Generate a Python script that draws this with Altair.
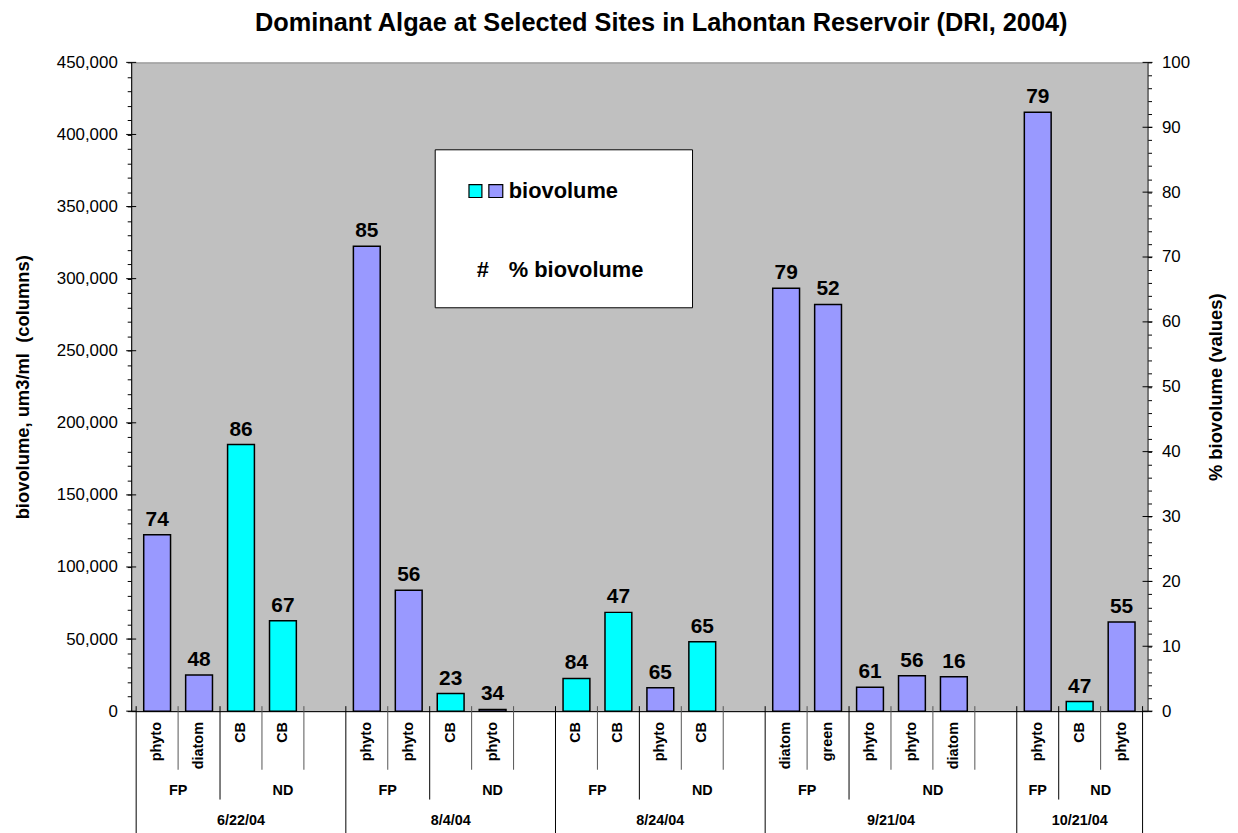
import altair as alt
import pandas as pd

# ---------------- data ----------------
dates = ["6/22/04"] * 5 + ["8/4/04"] * 5 + ["8/24/04"] * 5 + ["9/21/04"] * 6 + ["10/21/04"] * 3
sites = ["FP", "FP", "ND", "ND", "ND",
         "FP", "FP", "ND", "ND", "ND",
         "FP", "FP", "ND", "ND", "ND",
         "FP", "FP", "ND", "ND", "ND", "ND",
         "FP", "ND", "ND"]
types = ["phyto", "diatom", "CB", "CB", "",
         "phyto", "phyto", "CB", "phyto", "",
         "CB", "CB", "phyto", "CB", "",
         "diatom", "green", "phyto", "phyto", "diatom", "",
         "phyto", "CB", "phyto"]
biovolume = [122400, 25000, 184900, 62700, None,
             322500, 83900, 12200, 1200, None,
             22700, 68500, 16300, 48200, None,
             293400, 282100, 16500, 24600, 23900, None,
             415400, 6700, 61800]
pct_biovolume = [74, 48, 86, 67, None,
                 85, 56, 23, 34, None,
                 84, 47, 65, 65, None,
                 79, 52, 61, 56, 16, None,
                 79, 47, 55]

left_major = list(range(0, 450001, 50000))
left_minor = list(range(0, 450001, 10000))
right_major = list(range(0, 101, 10))
right_minor = list(range(0, 101, 2))

legend_colors = ["#00FFFF", "#9999FF"]

TITLE = "Dominant Algae at Selected Sites in Lahontan Reservoir (DRI, 2004)"
LEFT_TITLE = "biovolume, um3/ml\u00a0 (columns)"
RIGHT_TITLE = "% biovolume (values)"

# ---------------- layout / style ----------------
W, H = 1023, 653
FONT = "Liberation Sans"
CYAN, PURPLE = "#00FFFF", "#9999FF"

n = len(types)
df = pd.DataFrame({"date": dates, "site": sites, "type": types,
                   "val": biovolume, "pct": pct_biovolume})
df["slot"] = range(n)
df["center"] = df["slot"] + 0.5
df["kind"] = ["cyano" if t == "CB" else "other" for t in types]
bars_df = df.dropna(subset=["val"]).copy()
types_df = df[df["type"] != ""].copy()

site_groups = (df.groupby(["date", "site"], sort=False)
                 .agg(start=("slot", "min"), end=("slot", "max")).reset_index())
site_groups["mid"] = (site_groups["start"] + site_groups["end"] + 1) / 2
date_groups = (df.groupby(["date"], sort=False)
                 .agg(start=("slot", "min"), end=("slot", "max")).reset_index())
date_groups["mid"] = (date_groups["start"] + date_groups["end"] + 1) / 2

rows = []
for b in range(n + 1):
    if b == 0 or b == n or dates[b - 1] != dates[b]:
        lvl = 3
    elif sites[b - 1] != sites[b]:
        lvl = 2
    else:
        lvl = 1
    rows.append({"b": b, "level": lvl})
sep_df = pd.DataFrame(rows)

x_scale = alt.Scale(domain=[0, n], nice=False, zero=False)
x_axis = alt.Axis(labels=False, ticks=False, grid=False, domain=True,
                  domainColor="black", domainWidth=1, title=None)


def xq(field):
    return alt.X(f"{field}:Q", scale=x_scale, axis=x_axis, title=None)


left_axis = alt.Axis(values=left_minor, tickSize=4,
                     labelExpr="datum.value % 50000 === 0 ? format(datum.value, ',') : ''",
                     labelPadding=10, labelOverlap=False, grid=False,
                     domainColor="black", tickColor="black", titlePadding=24)
y_scale_left = alt.Scale(domain=[0, 450000], nice=False, zero=True)


def yl(field):
    return alt.Y(f"{field}:Q", scale=y_scale_left, axis=left_axis, title=LEFT_TITLE)


bars = alt.Chart(bars_df).mark_bar(size=27, stroke="black", strokeWidth=1.5).encode(
    x=xq("center"),
    y=yl("val"),
    color=alt.Color("kind:N", scale=alt.Scale(domain=["cyano", "other"], range=[CYAN, PURPLE]),
                    legend=None),
)

bar_labels = alt.Chart(bars_df).mark_text(
    font=FONT, fontSize=21, fontWeight="bold", baseline="alphabetic", dy=-9, color="black"
).encode(
    x=xq("center"),
    y=yl("val"),
    text=alt.Text("pct:Q", format="d"),
)

left_ticks = alt.Chart(pd.DataFrame({"val": left_major})).mark_rule(color="black", strokeWidth=1).encode(
    y=yl("val"),
    x=alt.value(-5),
    x2=alt.value(5),
)

seps = []
for lvl, length, col in [(1, 59, "#555555"), (2, 89, "black"), (3, 125, "black")]:
    seps.append(
        alt.Chart(sep_df).transform_filter(alt.datum.level == lvl)
        .mark_rule(color=col, strokeWidth=1)
        .encode(x=xq("b"), y=alt.value(H - 5), y2=alt.value(H + length))
    )

type_text = alt.Chart(types_df).mark_text(
    font=FONT, fontSize=14.5, fontWeight="bold", angle=270, align="right", baseline="middle"
).encode(x=xq("center"), y=alt.value(H + 11), text="type:N")

site_text = alt.Chart(site_groups).mark_text(
    font=FONT, fontSize=14.5, fontWeight="bold", align="center", baseline="middle"
).encode(x=xq("mid"), y=alt.value(H + 80), text="site:N")

date_text = alt.Chart(date_groups).mark_text(
    font=FONT, fontSize=14.5, fontWeight="bold", align="center", baseline="middle"
).encode(x=xq("mid"), y=alt.value(H + 111), text="date:N")

one = pd.DataFrame({"a": [0]})
legend_box = alt.Chart(one).mark_rect(fill="white", stroke="black", strokeWidth=1).encode(
    x=alt.value(306), x2=alt.value(565), y=alt.value(88), y2=alt.value(247))
sw1 = alt.Chart(one).mark_rect(fill=legend_colors[0], stroke="black", strokeWidth=1.2).encode(
    x=alt.value(340), x2=alt.value(353), y=alt.value(123), y2=alt.value(136))
sw2 = alt.Chart(one).mark_rect(fill=legend_colors[1], stroke="black", strokeWidth=1.2).encode(
    x=alt.value(360), x2=alt.value(374), y=alt.value(123), y2=alt.value(136))
leg_t1 = alt.Chart(one).mark_text(font=FONT, fontSize=22, fontWeight="bold", align="left",
                                  baseline="middle", text="biovolume").encode(
    x=alt.value(380), y=alt.value(130))
leg_t2 = alt.Chart(one).mark_text(font=FONT, fontSize=22, fontWeight="bold", align="center",
                                  baseline="middle", text="#").encode(
    x=alt.value(354), y=alt.value(209))
leg_t3 = alt.Chart(one).mark_text(font=FONT, fontSize=22, fontWeight="bold", align="left",
                                  baseline="middle", text="% biovolume").encode(
    x=alt.value(380), y=alt.value(209))

left_layer = alt.layer(bars, left_ticks, *seps, type_text, site_text, date_text,
                       legend_box, sw1, sw2, leg_t1, leg_t2, leg_t3, bar_labels)

right_axis = alt.Axis(orient="right", values=right_minor, tickSize=4,
                      labelExpr="datum.value % 10 === 0 ? datum.label : ''",
                      labelPadding=10, labelOverlap=False, grid=False,
                      domainColor="#404040", tickColor="black",
                      titleAngle=270, titlePadding=36)
right_layer = alt.Chart(pd.DataFrame({"pv": right_major})).mark_rule(color="black", strokeWidth=1).encode(
    y=alt.Y("pv:Q", scale=alt.Scale(domain=[0, 100], nice=False), axis=right_axis, title=RIGHT_TITLE),
    x=alt.value(W - 5),
    x2=alt.value(W + 5),
)

chart = alt.layer(left_layer, right_layer).resolve_scale(y="independent").properties(
    width=W, height=H,
    padding={"left": 5, "top": 0, "right": 5, "bottom": 5},
    title=alt.TitleParams(TITLE, font=FONT, fontSize=25.5, fontWeight="bold", anchor="middle",
                          dx=22, offset=17, color="black"),
).configure_view(
    fill="#C0C0C0", stroke="#808080", strokeWidth=1
).configure_axis(
    labelFont=FONT, labelFontSize=17, labelColor="black",
    titleFont=FONT, titleFontSize=18.5, titleFontWeight="bold", titleColor="black",
)

chart.save("out.html", embed_options={"renderer": "svg", "actions": False})
